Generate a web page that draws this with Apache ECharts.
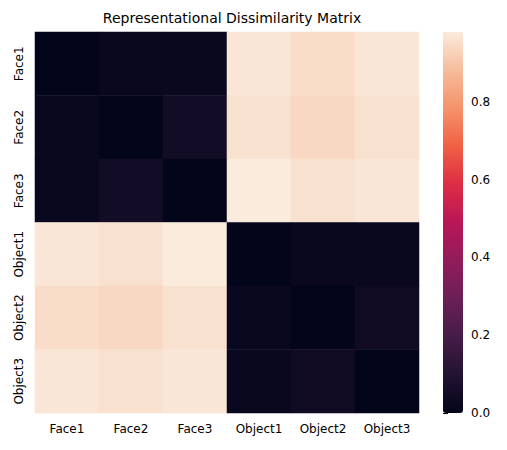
<!DOCTYPE html>
<html>
<head>
<meta charset="utf-8">
<script src="https://cdn.jsdelivr.net/npm/echarts@6/dist/echarts.min.js"></script>
<style>html,body{margin:0;padding:0;background:#fff}#chart{width:507px;height:450px}</style>
</head>
<body>
<div id="chart"></div>
<script>
  var labels = ['Face1', 'Face2', 'Face3', 'Object1', 'Object2', 'Object3'];
  var matrix = [
    [0.00, 0.02, 0.02, 0.97, 0.95, 0.97],
    [0.02, 0.00, 0.05, 0.96, 0.94, 0.96],
    [0.02, 0.05, 0.00, 0.98, 0.96, 0.97],
    [0.97, 0.96, 0.98, 0.00, 0.02, 0.02],
    [0.95, 0.94, 0.96, 0.02, 0.00, 0.04],
    [0.97, 0.96, 0.97, 0.02, 0.04, 0.00]
  ];
  var colorTicks = [0, 0.2, 0.4, 0.6, 0.8];

  var rocket = ['#03051A', '#221331', '#451C47', '#6B1F56', '#921C5B', '#B91657',
                '#DD2C45', '#F06043', '#F5936A', '#F6BC9B', '#FAEBDD'];

  var cells = [];
  matrix.forEach(function (row, i) {
    row.forEach(function (v, j) { cells.push([j, i, v]); });
  });
  var vmax = Math.max.apply(null, cells.map(function (c) { return c[2]; }));

  var chart = echarts.init(document.getElementById('chart'), null, { renderer: 'svg' });
  var font = 'DejaVu Sans';
  chart.setOption({
    animation: false,
    textStyle: { fontFamily: font },
    title: {
      text: 'Representational Dissimilarity Matrix',
      left: 227, top: 6, textAlign: 'center',
      textStyle: { fontSize: 14, fontWeight: 'normal', color: '#000', fontFamily: font }
    },
    grid: [
      { left: 35, right: 88, top: 32, bottom: 37 },
      { left: 443, width: 20, top: 32, bottom: 37 }
    ],
    xAxis: [
      { type: 'category', data: labels, gridIndex: 0,
        axisLine: { show: false },
        axisTick: { alignWithLabel: true, lineStyle: { color: '#000' } },
        axisLabel: { color: '#000', fontSize: 12, margin: 10 } },
      { type: 'value', gridIndex: 1, show: false, min: 0, max: 1 }
    ],
    yAxis: [
      { type: 'category', data: labels, inverse: true, gridIndex: 0,
        axisLine: { show: false },
        axisTick: { alignWithLabel: true, lineStyle: { color: '#000' } },
        axisLabel: { color: '#000', fontSize: 12, rotate: 90, margin: 10 } },
      { type: 'value', gridIndex: 1, position: 'right', min: 0, max: vmax, interval: 0.2,
        splitLine: { show: false }, axisLine: { show: false },
        axisTick: { show: true, lineStyle: { color: '#000' } },
        axisLabel: { color: '#000', fontSize: 12, showMaxLabel: false,
          formatter: function (v) { return colorTicks.indexOf(Math.round(v * 10) / 10) >= 0 ? v.toFixed(1) : ''; } } }
    ],
    visualMap: {
      type: 'continuous', min: 0, max: vmax, seriesIndex: 0,
      inRange: { color: rocket },
      left: 443, top: 32, itemWidth: 20, itemHeight: 381, padding: 0,
      text: null, showLabel: false, calculable: false, hoverLink: false, realtime: false,
      indicatorSize: 0
    },
    series: [{
      type: 'heatmap', data: cells, xAxisIndex: 0, yAxisIndex: 0,
      itemStyle: { borderWidth: 0 }
    }]
  });
  window.addEventListener('resize', chart.resize);
</script>
</body>
</html>
